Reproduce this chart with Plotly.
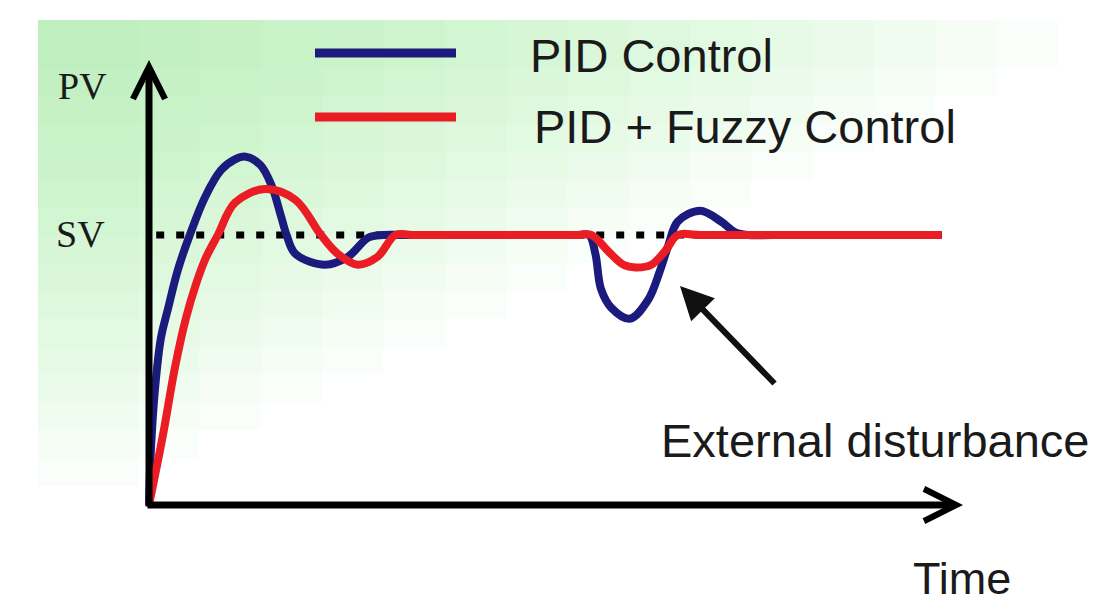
import plotly.graph_objects as go

W, H = 1110, 603

# time axis (arbitrary units) and process value (SV = 1)
pid_t = [0, 0.025, 0.075, 0.15, 0.24, 0.36, 0.51, 0.70, 0.90, 1.075, 1.21, 1.39, 1.53, 1.65, 1.72, 1.83, 2.20, 2.49, 2.74, 2.93, 3.20,
         5.35, 5.50, 5.58, 5.65, 5.78, 6.01, 6.24, 6.39, 6.49, 6.61, 6.89, 7.15, 7.33, 7.49, 7.80, 9.91]
pid_pv = [0, 0.21, 0.43, 0.62, 0.73, 0.87, 1.00, 1.14, 1.24, 1.28, 1.29, 1.26, 1.185, 1.07, 1.00, 0.93, 0.89, 0.92, 0.99, 1.00, 1.00,
          1.00, 1.00, 0.93, 0.80, 0.73, 0.69, 0.76, 0.87, 0.96, 1.05, 1.09, 1.05, 1.01, 1.00, 1.00, 1.00]

fuzzy_t = [0, 0.175, 0.325, 0.46, 0.59, 0.71, 0.86, 1.075, 1.45, 1.83, 2.15, 2.36, 2.61, 2.86, 3.08, 3.30,
           5.35, 5.53, 5.74, 5.93, 6.08, 6.28, 6.45, 6.61, 6.90, 9.91]
fuzzy_pv = [0, 0.26, 0.51, 0.69, 0.82, 0.915, 1.00, 1.12, 1.17, 1.13, 1.00, 0.93, 0.89, 0.92, 1.00, 1.00,
            1.00, 1.00, 0.94, 0.89, 0.88, 0.89, 0.94, 1.00, 1.00, 1.00]

sv_t = [0.09, 9.91]
sv_pv = [1.0, 1.0]

series_names = ["PID Control", "PID + Fuzzy Control"]
series_colors = ["#1b1b7d", "#ea1c24"]

# pixel <-> data mapping (origin at px 141, 497; 80 px per time unit, 270 px per SV)
X0, Y0, SX, SY = 141, 497, 80.0, 270.0


def dx(px):
    return (px - X0) / SX


def dy(py):
    return (Y0 - py) / SY


def px_(x):
    return x / W


def py_(y):
    return 1 - y / H


fig = go.Figure()

fig.add_trace(go.Scatter(
    x=sv_t, y=sv_pv, mode="lines",
    line=dict(color="black", width=7, dash="8px,12px"),
    showlegend=False, hoverinfo="skip",
))
fig.add_trace(go.Scatter(
    x=pid_t, y=pid_pv, mode="lines", name=series_names[0],
    line=dict(color=series_colors[0], width=8, shape="spline", smoothing=1.0),
    showlegend=False,
))
fig.add_trace(go.Scatter(
    x=fuzzy_t, y=fuzzy_pv, mode="lines", name=series_names[1],
    line=dict(color=series_colors[1], width=8, shape="spline", smoothing=1.0),
    showlegend=False,
))

# light green gradient background (stack of translucent rectangles)
shapes = []
n = 16
for k in range(n):
    xr = 130 + (1050 - 130) * (1 - k / (n - 1))
    yb = 60 + (478 - 60) * (k / (n - 1))
    shapes.append(dict(
        type="rect", xref="paper", yref="paper", layer="below",
        x0=px_(30), x1=px_(xr), y0=py_(yb), y1=py_(12),
        fillcolor="rgba(150,235,150,0.042)", line=dict(width=0),
    ))

# hand-drawn legend samples
for i, yy in enumerate([45, 109]):
    shapes.append(dict(
        type="line", xref="paper", yref="paper",
        x0=px_(307), x1=px_(448), y0=py_(yy), y1=py_(yy),
        line=dict(color=series_colors[i], width=9),
    ))

annotations = []

# axes with open arrow heads
annotations.append(dict(
    x=0, y=dy(52), ax=0, ay=dy(500), xref="x", yref="y", axref="x", ayref="y",
    text="", showarrow=True, arrowhead=5, arrowwidth=7, arrowsize=0.9, arrowcolor="black",
))
annotations.append(dict(
    x=dx(955), y=0, ax=dx(138), ay=0, xref="x", yref="y", axref="x", ayref="y",
    text="", showarrow=True, arrowhead=5, arrowwidth=7, arrowsize=0.9, arrowcolor="black",
))

# disturbance pointer
annotations.append(dict(
    x=dx(672), y=dy(278), ax=dx(768), ay=dy(377), xref="x", yref="y", axref="x", ayref="y",
    text="", showarrow=True, arrowhead=2, arrowwidth=6, arrowsize=1.1, arrowcolor="#111111",
))

sans = dict(family="Liberation Sans, Arial, sans-serif", size=47, color="#1a1a1a")
sans_t = dict(family="Liberation Sans, Arial, sans-serif", size=45, color="#1a1a1a")
serif = dict(family="Liberation Serif, Times New Roman, serif", size=38, color="#1a1a1a")

labels = [
    ("PID Control", 520, 48, sans),
    ("PID + Fuzzy Control", 524, 118, sans),
    ("External disturbance", 651, 433, sans),
    ("Time", 903, 570, sans_t),
    ("PV", 48, 78, serif),
    ("SV", 46, 226, serif),
]
for txt, lx, ly, f in labels:
    annotations.append(dict(
        x=px_(lx), y=py_(ly), xref="paper", yref="paper",
        xanchor="left", yanchor="middle", text=txt, showarrow=False, font=f,
    ))

fig.update_layout(
    width=W, height=H,
    margin=dict(l=0, r=0, t=0, b=0),
    paper_bgcolor="white", plot_bgcolor="rgba(0,0,0,0)",
    xaxis=dict(range=[dx(0), dx(W)], visible=False, fixedrange=True),
    yaxis=dict(range=[dy(H), dy(0)], visible=False, fixedrange=True),
    shapes=shapes, annotations=annotations,
    showlegend=False,
)

fig.write_html("out.html", config={"displayModeBar": False})
